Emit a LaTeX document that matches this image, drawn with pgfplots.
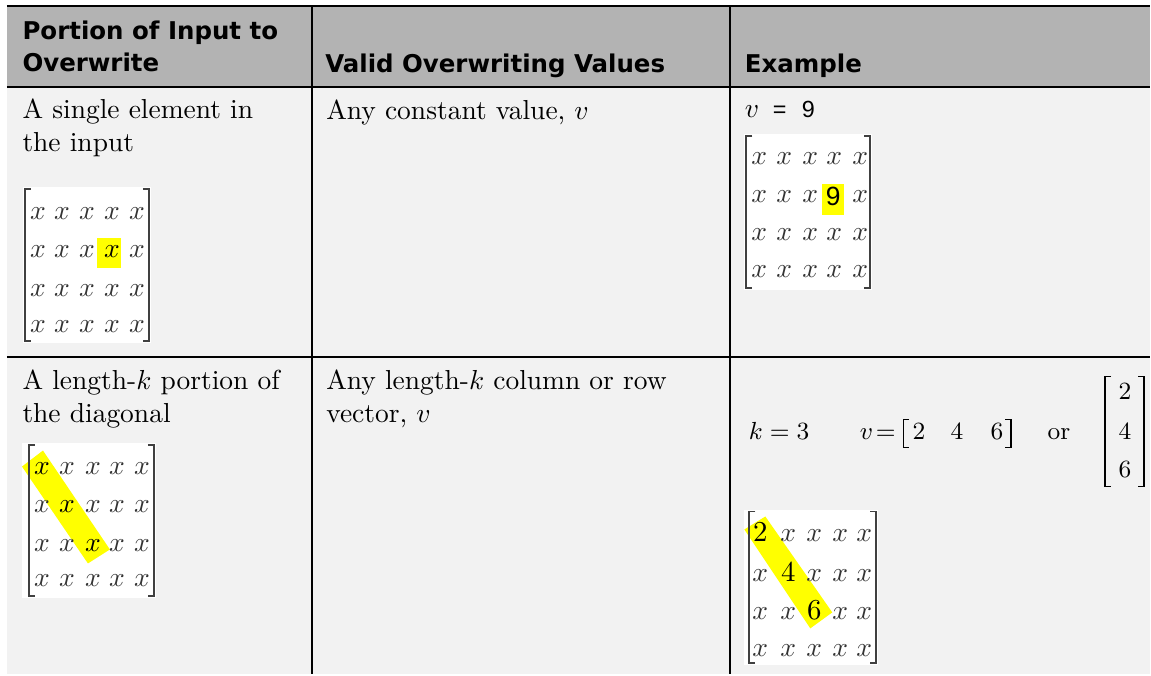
\documentclass[border=0pt]{standalone}
\usepackage{fontspec}
\usepackage{pgfplots}
\pgfplotsset{compat=1.18}
\newfontfamily\hdr{DejaVu Sans}
\newfontfamily\sansf{Liberation Sans}
\definecolor{hdgray}{RGB}{179,179,179}
\definecolor{bodygray}{RGB}{242,242,242}
\definecolor{hl}{RGB}{255,255,0}
\tikzset{
  body/.style={anchor=base west, inner sep=0pt, font=\fontsize{10}{12}\selectfont},
  hd/.style={anchor=base west, inner sep=0pt, font=\hdr\bfseries\fontsize{8.9}{10}\selectfont},
  mx/.style={anchor=base, inner sep=0pt, font=\fontsize{9.7}{11}\selectfont, text=black!80},
  sm/.style={anchor=base west, inner sep=0pt, font=\fontsize{9}{11}\selectfont},
  brk/.style={line width=0.72pt, draw=black!75},
  thinbrk/.style={line width=0.5pt, draw=black},
  rule/.style={line width=0.75pt, draw=black}
}
% five cells of one row at fixed columns: #1 = baseline y, #2..#6 = cells
\newcommand\rowA[6]{\node[mx] at (38,#1) {#2};\node[mx] at (62,#1) {#3};\node[mx] at (87,#1) {#4};\node[mx] at (112,#1) {#5};\node[mx] at (137,#1) {#6};}
\newcommand\rowB[6]{\node[mx] at (760,#1) {#2};\node[mx] at (785,#1) {#3};\node[mx] at (811,#1) {#4};\node[mx] at (835,#1) {#5};\node[mx] at (861,#1) {#6};}
\newcommand\rowC[6]{\node[mx] at (42,#1) {#2};\node[mx] at (67,#1) {#3};\node[mx] at (93,#1) {#4};\node[mx] at (117,#1) {#5};\node[mx] at (142,#1) {#6};}
\newcommand\rowD[6]{\node[mx] at (761,#1) {#2};\node[mx] at (789,#1) {#3};\node[mx] at (815,#1) {#4};\node[mx] at (841,#1) {#5};\node[mx] at (865,#1) {#6};}
\newcommand\X{$x$}
\newcommand\XD{\textcolor{black}{$x$}}
\begin{document}
\begin{tikzpicture}
\begin{axis}[
  width=418.5pt, height=245.4pt, scale only axis,
  xmin=0, xmax=1151, ymin=0, ymax=675, y dir=reverse,
  hide axis, clip=false]
% page background
\fill[white] (0,0) rectangle (1151,675);
% header and body backgrounds
\fill[hdgray] (7,6) rectangle (1151,87);
\fill[bodygray] (7,87) rectangle (1151,675);
% rules
\draw[rule] (7,6) -- (1151,6);
\draw[rule] (7,87) -- (1151,87);
\draw[rule] (7,357) -- (1151,357);
\draw[rule] (312,6) -- (312,675);
\draw[rule] (731,6) -- (731,675);
% header text
\node[hd] at (22,40) {Portion of Input to};
\node[hd] at (22,72) {Overwrite};
\node[hd] at (325,73) {Valid Overwriting Values};
\node[hd] at (745,73) {Example};
% row 1 text
\node[body] at (22,119) {A single element in};
\node[body] at (22,152) {the input};
\node[body] at (326,120) {Any constant value, $v$};
\node[body] at (745,118) {$v$};
\node[anchor=base west, inner sep=0pt, font=\sansf\fontsize{8.5}{10}\selectfont] at (773,118) {=};
\node[anchor=base west, inner sep=0pt, font=\sansf\fontsize{8.5}{10}\selectfont] at (802,118) {9};
% matrix 1
\fill[white] (23,187) rectangle (151,343);
\fill[hl] (97,238) rectangle (121,268);
\draw[brk] (31,189) -- (25,189) -- (25,341) -- (31,341);
\draw[brk] (143,189) -- (149,189) -- (149,341) -- (143,341);
\rowA{220}{\X}{\X}{\X}{\X}{\X}
\rowA{258}{\X}{\X}{\X}{\XD}{\X}
\rowA{297}{\X}{\X}{\X}{\X}{\X}
\rowA{333}{\X}{\X}{\X}{\X}{\X}
% matrix 2
\fill[white] (745,134) rectangle (873,290);
\fill[hl] (823,184) rectangle (845,215);
\draw[brk] (753,136) -- (747,136) -- (747,288) -- (753,288);
\draw[brk] (865,136) -- (871,136) -- (871,288) -- (865,288);
\rowB{165}{\X}{\X}{\X}{\X}{\X}
\rowB{203}{\X}{\X}{\X}{}{\X}
\rowB{241}{\X}{\X}{\X}{\X}{\X}
\rowB{278}{\X}{\X}{\X}{\X}{\X}
\node[anchor=base, inner sep=0pt, font=\sansf\fontsize{9.6}{11}\selectfont] at (834,206) {9};
% row 2 text
\node[body] at (22,390) {A length-$k$ portion of};
\node[body] at (22,423) {the diagonal};
\node[body] at (326,390) {Any length-$k$ column or row};
\node[body] at (326,423) {vector, $v$};
% matrix 3
\fill[white] (22,443) rectangle (156,599);
\fill[hl] (22,467) -- (43,451) -- (110,550) -- (88,564) -- cycle;
\draw[brk] (35,445) -- (29,445) -- (29,597) -- (35,597);
\draw[brk] (148,445) -- (154,445) -- (154,597) -- (148,597);
\rowC{475}{\XD}{\X}{\X}{\X}{\X}
\rowC{513}{\X}{\XD}{\X}{\X}{\X}
\rowC{552}{\X}{\X}{\XD}{\X}{\X}
\rowC{587}{\X}{\X}{\X}{\X}{\X}
% example row 2
\node[sm] at (749,440) {$k=3$};
\node[sm] at (860,440) {$v$};
\node[sm] at (876,440) {$=$};
\draw[thinbrk] (910,420) -- (904,420) -- (904,448) -- (910,448);
\node[sm] at (913,440) {$2$};
\node[sm] at (951,440) {$4$};
\node[sm] at (991,440) {$6$};
\draw[thinbrk] (1006,420) -- (1012,420) -- (1012,448) -- (1006,448);
\node[sm] at (1048,440) {or};
\draw[thinbrk] (1112,377) -- (1106,377) -- (1106,487) -- (1112,487);
\draw[thinbrk] (1139,377) -- (1145,377) -- (1145,487) -- (1139,487);
\node[anchor=base, inner sep=0pt, font=\fontsize{9}{11}\selectfont] at (1126,400) {$2$};
\node[anchor=base, inner sep=0pt, font=\fontsize{9}{11}\selectfont] at (1126,440) {$4$};
\node[anchor=base, inner sep=0pt, font=\fontsize{9}{11}\selectfont] at (1126,478) {$6$};
% matrix 4
\fill[white] (745,510) rectangle (879,666);
\fill[hl] (745,530) -- (766,517) -- (833,613) -- (811,629) -- cycle;
\draw[brk] (756,512) -- (750,512) -- (750,664) -- (756,664);
\draw[brk] (871,512) -- (877,512) -- (877,664) -- (871,664);
\rowD{542}{}{\X}{\X}{\X}{\X}
\rowD{582}{\X}{}{\X}{\X}{\X}
\rowD{620}{\X}{\X}{}{\X}{\X}
\rowD{657}{\X}{\X}{\X}{\X}{\X}
\node[anchor=base, inner sep=0pt, font=\fontsize{10.5}{12}\selectfont] at (761,542) {2};
\node[anchor=base, inner sep=0pt, font=\fontsize{10.5}{12}\selectfont] at (789,582) {4};
\node[anchor=base, inner sep=0pt, font=\fontsize{10.5}{12}\selectfont] at (815,620) {6};
\end{axis}
\end{tikzpicture}
\end{document}
